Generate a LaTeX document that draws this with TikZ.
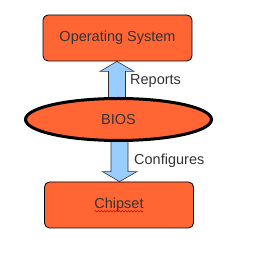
\documentclass[tikz,border=0pt]{standalone}
\usepackage{fontspec}
\setmainfont{Liberation Sans}
\usepackage{xcolor}
\usetikzlibrary{shapes.geometric,arrows.meta,positioning,calc,decorations.pathmorphing,backgrounds}
\definecolor{BO}{HTML}{FF6633}
\definecolor{AB}{HTML}{99CCFF}
\definecolor{TX}{HTML}{333333}

\begin{document}
\begin{tikzpicture}[x=1pt, y=1pt,
    boxnode/.style={draw=black, fill=BO, line width=0.8pt,
      rounded corners=5pt, minimum width=149pt, minimum height=46pt,
      font=\fontsize{14.5}{14.5}\selectfont, text=TX},
    biosnode/.style={ellipse, draw=black, fill=BO, line width=3pt,
      minimum width=186pt, minimum height=42pt, inner sep=0pt,
      font=\fontsize{14.5}{14.5}\selectfont, text=TX},
    blockarrow/.style={draw=black!80, fill=AB, line width=0.6pt,
      line join=miter},
    lbl/.style={font=\fontsize{14.5}{14.5}\selectfont, text=TX,
      inner sep=0pt}]

    \useasboundingbox (0,0) rectangle (252,253);

    %% ── three blocks ─────────────────────────────────
    \node[boxnode] (os) at (117.5,215) {Operating System};
    \node[biosnode] (bios) at (118.5,133.5) {BIOS};
    \node[boxnode] (chip) at (119,48) {Chipset};

    %% spell-check squiggle under the chipset label
    \draw[red!85!black, line width=0.5pt,
          decoration={snake, amplitude=0.7pt, segment length=3pt},
          decorate]
      ($(chip.base)+(-24.5,-2.5)$) -- ($(chip.base)+(24.5,-2.5)$);

    %% ── block arrows (behind the ellipse) ────────────
    \coordinate (uptip) at (os.south -| 117,0);
    \coordinate (downtip) at (chip.north -| 119.5,0);
    \begin{scope}[on background layer]
      \fill[white] (0,0) rectangle (252,253);
      \draw[blockarrow] (uptip) -- ++(17,-10) -- ++(-8.5,0)
        -- ++(0,-36) -- ++(-17,0) -- ++(0,36) -- ++(-8.5,0) -- cycle;
      \draw[blockarrow] (downtip) -- ++(17.5,10) -- ++(-9,0)
        -- ++(0,36) -- ++(-17,0) -- ++(0,-36) -- ++(-8.5,0) -- cycle;
    \end{scope}

    %% ── arrow labels ─────────────────────────────────
    \node[lbl, anchor=west] (reports) at ($(uptip)+(13,-20)$) {Reports};
    \node[lbl, anchor=west] (configures) at ($(downtip)+(14.5,21)$) {Configures};

  \end{tikzpicture}
\end{document}
